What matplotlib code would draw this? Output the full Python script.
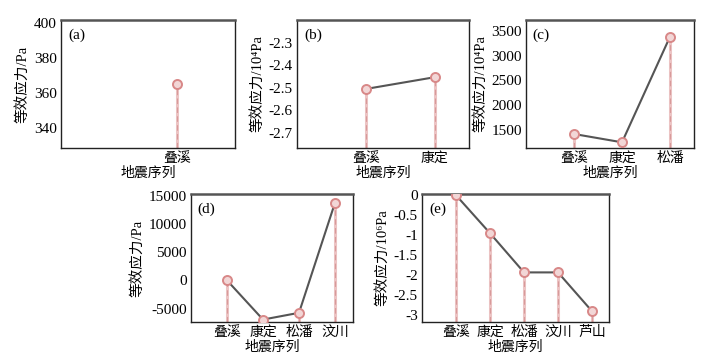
import matplotlib
matplotlib.use('Agg')
import matplotlib.pyplot as plt
from matplotlib.ticker import FuncFormatter

plt.rcParams['font.family'] = ['Liberation Serif', 'Noto Sans CJK SC']
plt.rcParams['axes.unicode_minus'] = False

quakes = ['叠溪', '康定', '松潘', '汶川', '芦山']

# values
vals_a = [365]
vals_b = [-2.505, -2.453]
vals_c = [1419, 1251, 3385]
vals_d = [0, -6950, -5750, 13750]
vals_e = [0, -0.95, -1.93, -1.93, -2.9]

panels = [
    ('(a)', vals_a, '等效应力/Pa', (328.6, 401.7), [340, 360, 380, 400]),
    ('(b)', vals_b, '等效应力/10⁴Pa', (-2.766, -2.2), [-2.7, -2.6, -2.5, -2.4, -2.3]),
    ('(c)', vals_c, '等效应力/10⁴Pa', (1136, 3722), [1500, 2000, 2500, 3000, 3500]),
    ('(d)', vals_d, '等效应力/Pa', (-7380, 15300), [-5000, 0, 5000, 10000, 15000]),
    ('(e)', vals_e, '等效应力/10⁶Pa', (-3.17, 0.03), [-3, -2.5, -2, -1.5, -1, -0.5, 0]),
]

# axes boxes in pixels: left, top, right, bottom
boxes = [
    (61, 20, 235, 148),
    (297, 20, 469, 148),
    (526, 20, 694, 148),
    (191, 194, 353, 322),
    (422, 194, 609, 322),
]

W, H = 714, 360
fig = plt.figure(figsize=(W / 100, H / 100), dpi=100)

for (tag, vals, ylab, ylim, yticks), (l, t, r, b) in zip(panels, boxes):
    ax = fig.add_axes([l / W, 1 - b / H, (r - l) / W, (b - t) / H])
    n = len(vals)
    xs = list(range(n))
    ax.set_xlim(-1, n - 0.5)
    ax.set_ylim(*ylim)
    for x, v in zip(xs, vals):
        ax.plot([x, x], [ylim[0], v], color='#ecc4c4', lw=2.2, zorder=1)
        ax.plot([x, x], [ylim[0], v], color='#d89a9a', lw=0.8, ls=(0, (5, 3)), zorder=1)
    if n > 1:
        ax.plot(xs, vals, color='#555555', lw=1.5, zorder=2)
    ax.plot(xs, vals, ls='none', marker='o', ms=6.5, mfc='#f2d6d6', mec='#d88888',
            mew=1.4, zorder=3)
    ax.set_xticks(xs)
    ax.set_xticklabels(quakes[:n])
    ax.set_yticks(yticks)
    ax.yaxis.set_major_formatter(FuncFormatter(lambda v, p: '%g' % v))
    ax.tick_params(axis='both', length=0, labelsize=11, pad=3)
    for lab in ax.get_xticklabels():
        lab.set_fontsize(10)
    ax.set_xlabel('地震序列', fontsize=10, labelpad=1)
    ax.set_ylabel(ylab, fontsize=10.5, labelpad=3)
    ax.text(0.04, 0.93, tag, transform=ax.transAxes, fontsize=11, va='top', ha='left')
    for s in ax.spines.values():
        s.set_linewidth(1.0)
        s.set_color('#222222')
    ax.spines['top'].set_linewidth(1.8)
    ax.spines['top'].set_color('#555555')

fig.savefig('out.png', dpi=100)
